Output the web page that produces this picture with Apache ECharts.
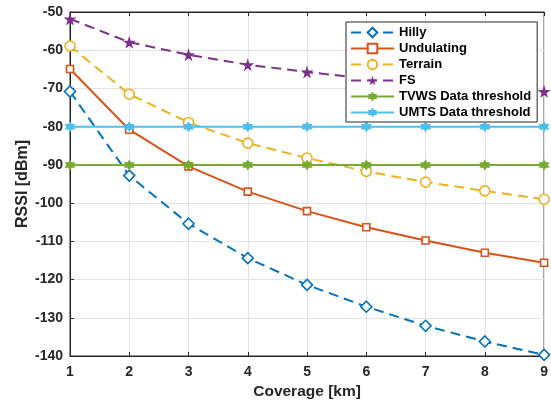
<!DOCTYPE html>
<html>
<head>
<meta charset="utf-8">
<script src="https://cdn.jsdelivr.net/npm/echarts@6/dist/echarts.min.js"></script>
<style>
html,body{margin:0;padding:0;background:#fff}
#chart{width:551px;height:405px}
</style>
</head>
<body>
<div id="chart"></div>
<script>
var coverage = [1, 2, 3, 4, 5, 6, 7, 8, 9];
var hilly = [-70.8, -92.8, -105.4, -114.4, -121.4, -127.1, -132.1, -136.2, -139.7];
var undulating = [-64.9, -80.8, -90.4, -97, -102.1, -106.3, -109.8, -113, -115.6];
var terrain = [-58.9, -71.5, -78.9, -84.3, -88.2, -91.7, -94.5, -96.8, -99];
var fs = [-51.8, -57.9, -61.2, -63.8, -65.7, -67.4, -68.8, -70, -70.8];
var tvws = [-90, -90, -90, -90, -90, -90, -90, -90, -90];
var umts = [-80, -80, -80, -80, -80, -80, -80, -80, -80];

var starPath = 'path://M50,0 L61,35 L98,35 L68,57 L79,91 L50,70 L21,91 L32,57 L2,35 L39,35 Z';
var hexPath = 'path://M50,0 L64,25 L93,25 L79,50 L93,75 L64,75 L50,100 L36,75 L7,75 L21,50 L7,25 L36,25 Z';

function pairs(vals) {
    var out = [];
    for (var i = 0; i < coverage.length; i++) out.push([coverage[i], vals[i]]);
    return out;
}

function line(name, vals, color, dashed, symbol, size, filled) {
    return {
        name: name,
        type: 'line',
        data: pairs(vals),
        symbol: symbol,
        symbolSize: size,
        showAllSymbol: true,
        lineStyle: { color: color, width: 2, type: dashed ? [10, 6] : 'solid' },
        itemStyle: { color: filled ? color : '#fff', borderColor: color, borderWidth: filled ? 0 : 1.6 },
        animation: false
    };
}

var chartId = echarts.init(document.getElementById('chart'));
var font = 'Liberation Sans';
option = {
    grid: { left: 70, top: 12, right: 2, bottom: 48, show: true, borderColor: '#262626', borderWidth: 1 },
    legend: {
        orient: 'vertical',
        left: 346,
        top: 22,
        itemWidth: 43,
        itemHeight: 12,
        itemGap: 3,
        padding: [4, 6, 3, 4],
        backgroundColor: '#fff',
        borderColor: '#262626',
        borderWidth: 1,
        borderRadius: 0,
        textStyle: { fontFamily: font, fontWeight: 'bold', fontSize: 13, color: '#000' },
        data: ['Hilly', 'Undulating', 'Terrain', 'FS', 'TVWS Data threshold', 'UMTS Data threshold']
    },
    xAxis: [{
        type: 'value',
        min: 1, max: 9, interval: 1,
        name: 'Coverage [km]',
        nameLocation: 'middle',
        nameGap: 28,
        nameMoveOverlap: false,
        nameTextStyle: { fontFamily: font, fontWeight: 'bold', fontSize: 15.5, color: '#262626' },
        axisLine: { show: true, lineStyle: { color: '#262626' } },
        axisTick: { inside: true, length: 4, lineStyle: { color: '#262626' } },
        axisLabel: { fontFamily: font, fontWeight: 'bold', fontSize: 14, color: '#262626', margin: 9 },
        splitLine: { show: true, lineStyle: { color: '#e3e3e3' } }
    }, {
        type: 'value',
        position: 'top',
        min: 1, max: 9, interval: 1,
        axisLine: { show: true, lineStyle: { color: '#262626' } },
        axisTick: { inside: true, length: 4, lineStyle: { color: '#262626' } },
        axisLabel: { show: false },
        splitLine: { show: false }
    }],
    yAxis: {
        type: 'value',
        min: -140, max: -50, interval: 10,
        name: 'RSSI [dBm]',
        nameLocation: 'middle',
        nameGap: 39,
        nameMoveOverlap: false,
        nameTextStyle: { fontFamily: font, fontWeight: 'bold', fontSize: 16, color: '#262626' },
        axisLine: { show: true, lineStyle: { color: '#262626' } },
        axisTick: { show: true, inside: true, length: 4, lineStyle: { color: '#262626' } },
        axisLabel: { fontFamily: font, fontWeight: 'bold', fontSize: 14, color: '#262626', margin: 7 },
        splitLine: { show: true, lineStyle: { color: '#e3e3e3' } }
    },
    series: [
        line('Hilly', hilly, '#0072BD', true, 'diamond', 11, false),
        line('Undulating', undulating, '#D95319', false, 'rect', 7, false),
        line('Terrain', terrain, '#EDB120', true, 'circle', 10, false),
        line('FS', fs, '#7E2F8E', true, starPath, 13, true),
        line('TVWS Data threshold', tvws, '#77AC30', false, hexPath, 11, true),
        line('UMTS Data threshold', umts, '#4DBEEE', false, hexPath, 11, true)
    ]
};
chartId.setOption(option);
</script>
</body>
</html>
